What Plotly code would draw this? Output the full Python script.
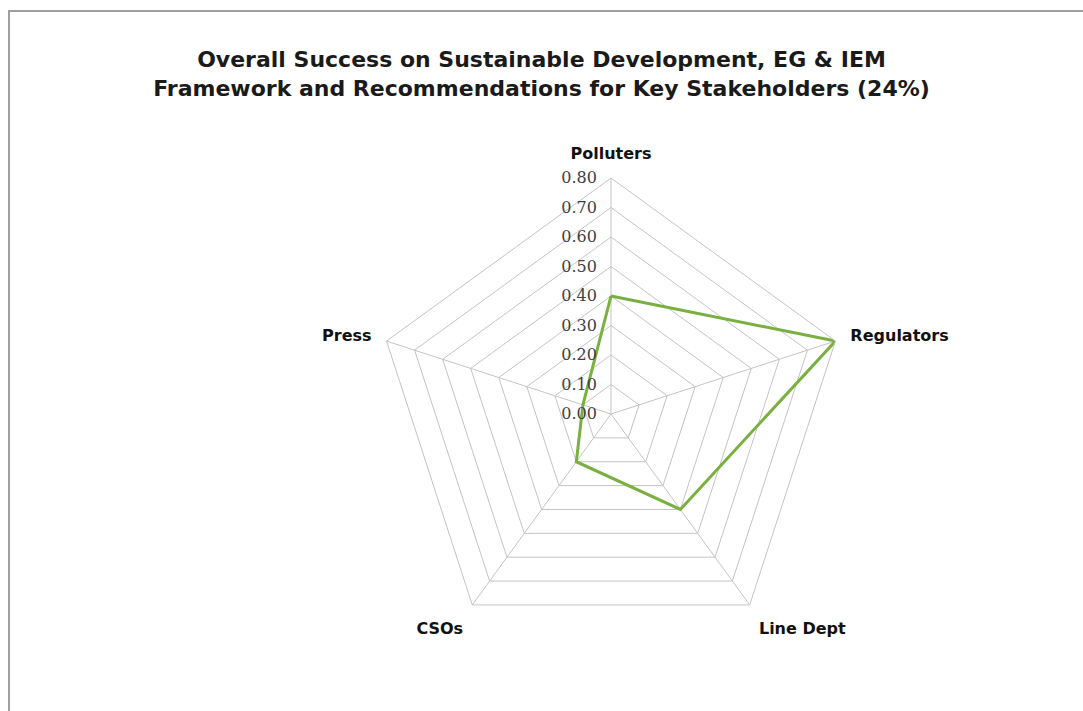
import plotly.graph_objects as go

categories = ["Polluters", "Regulators", "Line Dept", "CSOs", "Press"]
values = [0.40, 0.80, 0.40, 0.20, 0.10]
tick_vals = [0.0, 0.1, 0.2, 0.3, 0.4, 0.5, 0.6, 0.7, 0.8]
tick_text = ["0.00", "0.10", "0.20", "0.30", "0.40", "0.50", "0.60", "0.70", "0.80"]
title_text = ("Overall Success on Sustainable Development, EG & IEM<br>"
              "Framework and Recommendations for Key Stakeholders (24%)")

W, H = 1083, 711

fig = go.Figure()
fig.add_trace(go.Scatterpolar(
    r=values + [values[0]],
    theta=categories + [categories[0]],
    mode="lines",
    line=dict(color="#7AB03F", width=3),
    showlegend=False,
    hoverinfo="skip",
))

# polar domain: center (611,414), radius 236 px
cx, cy, rad = 611, 414, 236
fig.update_layout(
    width=W, height=H,
    margin=dict(l=0, r=0, t=0, b=0),
    paper_bgcolor="white",
    plot_bgcolor="white",
    title=dict(
        text=title_text,
        x=0.5, xanchor="center",
        y=1 - 67 / H, yanchor="middle",
        font=dict(family="DejaVu Sans", size=22, color="#1a1a1a", weight="bold"),
    ),
    polar=dict(
        domain=dict(x=[(cx - rad) / W, (cx + rad) / W],
                    y=[1 - (cy + rad) / H, 1 - (cy - rad) / H]),
        bgcolor="white",
        gridshape="linear",
        radialaxis=dict(
            range=[0, 0.8],
            tickvals=tick_vals,
            ticktext=tick_text,
            angle=90,
            tickangle=90,
            side="counterclockwise",
            showline=False,
            showgrid=True,
            gridcolor="#C4C4C4",
            gridwidth=1,
            ticks="outside",
            ticklen=8,
            tickcolor="rgba(0,0,0,0)",
            tickfont=dict(family="DejaVu Serif", size=16, color="#404040"),
        ),
        angularaxis=dict(
            rotation=90,
            direction="clockwise",
            showline=True,
            linecolor="#C4C4C4",
            linewidth=1,
            showgrid=True,
            gridcolor="#C4C4C4",
            gridwidth=1,
            ticks="outside",
            ticklen=12,
            tickcolor="rgba(0,0,0,0)",
            tickfont=dict(family="DejaVu Sans", size=16, color="#111111", weight="bold"),
        ),
    ),
    shapes=[dict(
        type="rect", xref="paper", yref="paper",
        x0=9 / W, x1=1.05, y0=-0.05, y1=1 - 11 / H,
        line=dict(color="#A0A0A0", width=2),
        layer="below",
    )],
)

fig.write_html("out.html")
